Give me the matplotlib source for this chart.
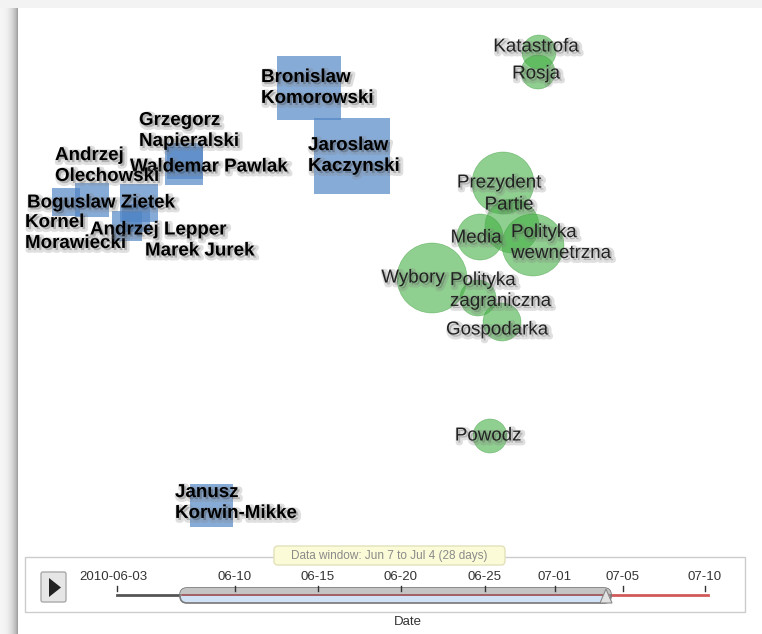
import matplotlib.pyplot as plt
import matplotlib.patheffects as pe
from matplotlib.patches import FancyBboxPatch, Rectangle, Polygon
import numpy as np

W, H = 762, 634

# candidates -> blue squares
people = ['Bronislaw\nKomorowski', 'Jaroslaw\nKaczynski', 'Grzegorz\nNapieralski',
          'Waldemar Pawlak', 'Andrzej\nOlechowski', 'Boguslaw Zietek',
          'Kornel\nMorawiecki', 'Andrzej Lepper', 'Marek Jurek', 'Janusz\nKorwin-Mikke']
people_x = [309, 352, 185, 184, 92, 139, 66, 127, 136, 211]
people_y = [88, 156, 161, 166, 200, 203, 202, 226, 218, 505]
people_size = [64, 76, 36, 38, 34, 38, 28, 30, 28, 43]

# topics -> green bubbles
topics = ['Katastrofa', 'Rosja', 'Prezydent', 'Partie', 'Media', 'Polityka\nwewnetrzna',
          'Wybory', 'Polityka\nzagraniczna', 'Gospodarka', 'Powodz']
topic_x = [539, 538, 503, 512, 480, 533, 432, 478, 502, 490]
topic_y = [52, 72, 183, 226, 237, 245, 278, 298, 322, 436]
topic_size = [34, 34, 62, 54, 46, 62, 70, 36, 38, 34]

# time slider
tick_labels = ['2010-06-03', '06-10', '06-15', '06-20', '06-25', '07-01', '07-05', '07-10']
tick_x = [117, 235, 318, 401, 485, 555, 623, 705]
window_text = 'Data window: Jun 7 to Jul 4 (28 days)'

# label placement (layout only)
people_lab = [(261, 88), (308, 156), (139, 131), (130, 167), (55, 166), (27, 203),
              (25, 233), (90, 230), (145, 251), (175, 503)]
topic_lab = [(536, 47, 'center'), (536, 74, 'center'), (499, 183, 'center'),
             (509, 205, 'center'), (476, 238, 'center'), (511, 243, 'left'),
             (413, 278, 'center'), (450, 291, 'left'), (497, 330, 'center'),
             (488, 436, 'center')]

plt.rcParams['font.family'] = ['Liberation Sans', 'DejaVu Sans']
fig = plt.figure(figsize=(W / 100, H / 100), dpi=100)
ax = fig.add_axes([0, 0, 1, 1])

# page chrome
ax.add_patch(Rectangle((0, 0), W, 8, color='#f3f3f3', lw=0, zorder=0))
grad = np.linspace(0, 1, 18) ** 2
ax.imshow(np.vstack([grad, grad]), extent=(0, 18, H, 8), aspect='auto',
          cmap='Greys', vmin=-0.2, vmax=2.4, zorder=0)

px2pt = 0.72
ax.scatter(people_x, people_y, s=(px2pt * np.array(people_size)) ** 2, marker='s',
           c='#4f84c4', alpha=0.68, linewidths=0, zorder=2)
ax.scatter(topic_x, topic_y, s=(px2pt * np.array(topic_size)) ** 2, marker='o',
           c='#45b045', alpha=0.6, edgecolors='#3a9a3a', linewidths=0.4, zorder=2)

shadow = [pe.Stroke(linewidth=4, foreground='#808080', alpha=0.25, offset=(1.5, -1.5)),
          pe.Normal()]
for name, (lx, ly) in zip(people, people_lab):
    ax.text(lx, ly, name, ha='left', va='center', fontsize=13.5, fontweight='bold',
            color='black', linespacing=1.3, path_effects=shadow, zorder=4)
for name, (lx, ly, ha) in zip(topics, topic_lab):
    ax.text(lx, ly, name, ha=ha, va='center', fontsize=13.5, color='#222222',
            linespacing=1.3, multialignment='left' if ha == 'left' else 'center',
            path_effects=shadow, zorder=4)

# time slider panel
ax.add_patch(Rectangle((25, 557), 720, 55, facecolor='white', edgecolor='#cccccc',
                       lw=1, zorder=1))
ax.add_patch(FancyBboxPatch((41, 572), 25, 30, boxstyle='round,pad=0,rounding_size=2',
                            facecolor='#e6e6e6', edgecolor='#aaaaaa', lw=1, zorder=2))
ax.add_patch(Polygon([(49, 578), (49, 597), (61, 587.5)], closed=True,
                     facecolor='#222222', lw=0, zorder=3))

ax.plot([117, 180], [595, 595], color='#555555', lw=2, zorder=2)
ax.plot([611, 708], [595, 595], color='#d05a5a', lw=2, zorder=2)
slider = FancyBboxPatch((180, 588), 431, 15, boxstyle='round,pad=0,rounding_size=7',
                        facecolor='#d2e2f6', edgecolor='#777777', lw=1.2, zorder=3)
ax.add_patch(slider)
top = Rectangle((175, 587), 440, 7, facecolor='#c4c4c4', lw=0, zorder=3)
ax.add_patch(top)
top.set_clip_path(slider)
ax.plot([182, 609], [595, 595], color='#9a4a4a', lw=1.2, zorder=3)
ax.add_patch(Polygon([(600, 603), (606, 589), (612, 603)], closed=True,
                     facecolor='#e2e2e2', edgecolor='#888888', lw=0.8, zorder=4))

for lab, x in zip(tick_labels, tick_x):
    ax.plot([x, x], [586, 591], color='#333333', lw=1, zorder=4)
    ax.text(x - (4 if lab.startswith('2010') else 0), 577, lab, ha='center',
            va='center', fontsize=9.5, color='#333333', zorder=4)

ax.add_patch(FancyBboxPatch((274, 546), 231, 19, boxstyle='round,pad=0,rounding_size=4',
                            facecolor='#fbfbd8', edgecolor='#e2e2bb', lw=1, zorder=5))
ax.text(389.5, 556, window_text, ha='center', va='center', fontsize=8.5,
        color='#8a8a8a', zorder=6)
ax.text(408, 622, 'Date', ha='center', va='center', fontsize=9.5, color='#333333')

ax.set_xlim(0, W)
ax.set_ylim(H, 0)
ax.axis('off')
fig.savefig('out.png', dpi=100)
